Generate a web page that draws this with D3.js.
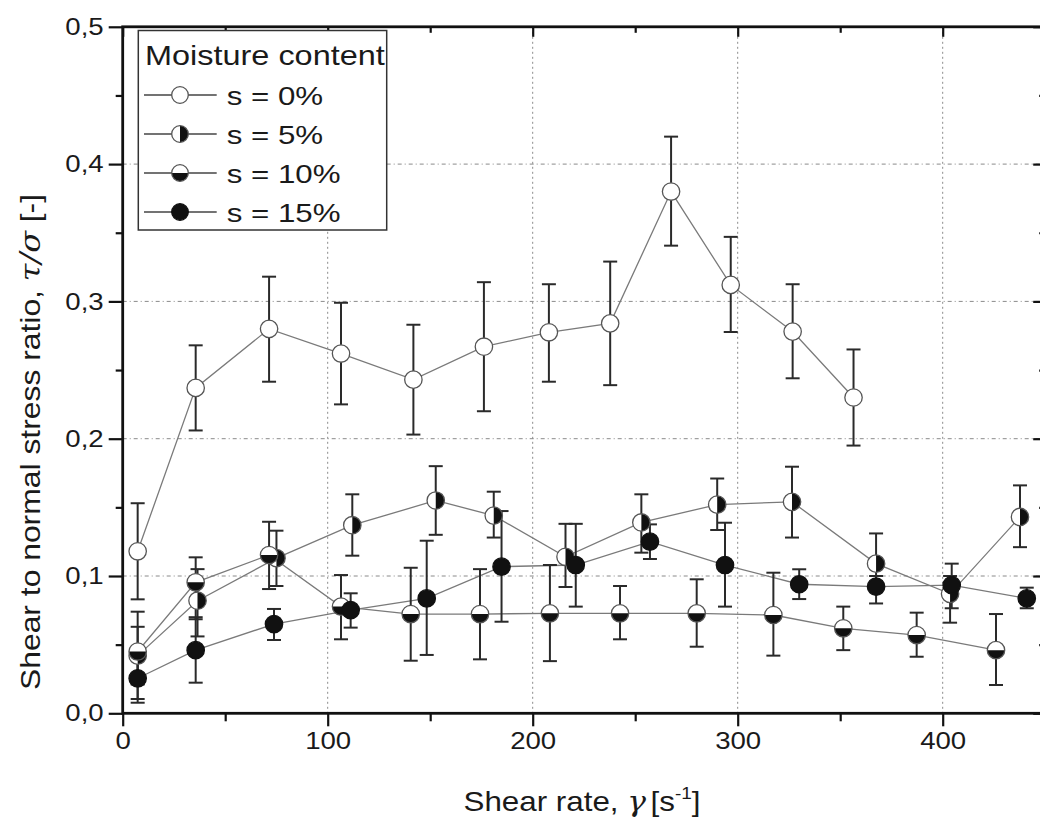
<!DOCTYPE html>
<html><head><meta charset="utf-8">
<script src="https://cdn.jsdelivr.net/npm/d3@7"></script>
<style>
body{margin:0;background:#fff}
svg{display:block}
text{font-family:"Liberation Sans",Arial,Helvetica,sans-serif;fill:#1a1a1a}
</style>
</head><body>
<svg id="c" width="1040" height="826"></svg>
<script>
// ---------------- data ----------------
const seriesNames = ["s = 0%", "s = 5%", "s = 10%", "s = 15%"];
const legendTitle = "Moisture content";

const x0  = [7.3, 35.6, 71.4, 106.5, 141.8, 176.2, 207.9, 237.8, 267.5, 296.6, 326.8, 356.5];
const y0  = [0.118, 0.237, 0.280, 0.262, 0.243, 0.267, 0.2775, 0.284, 0.380, 0.312, 0.278, 0.230];
const hi0 = [0.153, 0.268, 0.318, 0.299, 0.283, 0.314, 0.3125, 0.329, 0.420, 0.347, 0.3125, 0.265];
const lo0 = [0.083, 0.206, 0.2415, 0.225, 0.203, 0.220, 0.2415, 0.239, 0.3406, 0.2777, 0.244, 0.195];

const x5  = [7.3, 36.5, 75.0, 112.0, 152.7, 181.0, 216.0, 253.0, 290.0, 326.5, 367.5, 403.6, 437.7];
const y5  = [0.042, 0.082, 0.113, 0.137, 0.155, 0.144, 0.114, 0.139, 0.152, 0.154, 0.109, 0.087, 0.143];
const hi5 = [0.063, 0.105, 0.133, 0.1595, 0.180, 0.1614, 0.138, 0.1595, 0.171, 0.1796, 0.131, 0.100, 0.166];
const lo5 = [0.021, 0.056, 0.0927, 0.1148, 0.130, 0.128, 0.092, 0.117, 0.1335, 0.128, 0.092, 0.066, 0.121];

const x10  = [7.3, 35.6, 71.4, 106.5, 140.5, 174.3, 208.4, 242.6, 280.0, 317.4, 351.5, 387.3, 426.0];
const y10  = [0.045, 0.0954, 0.1153, 0.0777, 0.0723, 0.0723, 0.0728, 0.0728, 0.0728, 0.0716, 0.0619, 0.057, 0.046];
const hi10 = [0.074, 0.1136, 0.1395, 0.1007, 0.106, 0.105, 0.108, 0.0927, 0.0976, 0.1024, 0.0777, 0.0733, 0.0723];
const lo10 = [0.0104, 0.0685, 0.0905, 0.0539, 0.0383, 0.0393, 0.038, 0.0539, 0.0485, 0.042, 0.046, 0.0412, 0.0206];

const x15  = [7.3, 35.6, 73.8, 111.2, 148.3, 184.8, 221.0, 257.2, 293.8, 330.0, 367.5, 404.4, 441.0];
const y15  = [0.0255, 0.046, 0.065, 0.0752, 0.0837, 0.1068, 0.108, 0.125, 0.108, 0.094, 0.0922, 0.0934, 0.0837];
const hi15 = [0.040, 0.070, 0.076, 0.0874, 0.1257, 0.1473, 0.138, 0.1376, 0.1388, 0.1049, 0.100, 0.109, 0.0915];
const lo15 = [0.0077, 0.0223, 0.0534, 0.0624, 0.0425, 0.0667, 0.0777, 0.1124, 0.0777, 0.0832, 0.080, 0.0765, 0.0765];

const xMajor = [0, 100, 200, 300, 400];
const xMinor = [50, 150, 250, 350, 450];
const yMajor = [0, 0.1, 0.2, 0.3, 0.4, 0.5];
const yMinor = [0.05, 0.15, 0.25, 0.35, 0.45];
const yTickLabels = ["0,0", "0,1", "0,2", "0,3", "0,4", "0,5"];
const xTickLabels = ["0", "100", "200", "300", "400"];
const markerKinds = ["open", "right", "bottom", "full"];

// ---------------- setup ----------------
const svg = d3.select("#c");
const L = 122.7, R = 1045.2, T = 26.8, B = 713.3;
const x = d3.scaleLinear().domain([0, 450]).range([L, R]);
const y = d3.scaleLinear().domain([0, 0.5]).range([B, T]);
const SX = 1.15; // horizontal glyph stretch of the reference typeface

const series = [
  {name: seriesNames[0], kind: markerKinds[0], xs: x0, ys: y0, hi: hi0, lo: lo0},
  {name: seriesNames[1], kind: markerKinds[1], xs: x5, ys: y5, hi: hi5, lo: lo5},
  {name: seriesNames[2], kind: markerKinds[2], xs: x10, ys: y10, hi: hi10, lo: lo10},
  {name: seriesNames[3], kind: markerKinds[3], xs: x15, ys: y15, hi: hi15, lo: lo15}
].map(s => ({...s, pts: s.xs.map((v, i) => ({x: v, y: s.ys[i], hi: s.hi[i], lo: s.lo[i]}))}));

// ---------------- grid ----------------
const grid = svg.append("g");
grid.selectAll("line.gx").data([100, 200, 300, 400]).join("line")
  .attr("x1", d => x(d)).attr("x2", d => x(d)).attr("y1", T).attr("y2", B)
  .attr("stroke", "#8a8a8a").attr("stroke-width", 1).attr("stroke-dasharray", "2,3");
grid.selectAll("line.gy").data([0.1, 0.2, 0.3, 0.4]).join("line")
  .attr("x1", L).attr("x2", R).attr("y1", d => y(d)).attr("y2", d => y(d))
  .attr("stroke", "#8a8a8a").attr("stroke-width", 1).attr("stroke-dasharray", "4,3,1,3");

// ---------------- marker drawing ----------------
const MR = 8.7;
function drawMarker(g, kind, r) {
  g.append("circle").attr("r", r).attr("fill", kind === "full" ? "#111" : "#fff");
  if (kind === "right")
    g.append("path").attr("d", `M0,${-r} A${r},${r} 0 0 1 0,${r} Z`).attr("fill", "#111");
  if (kind === "bottom")
    g.append("path").attr("d", `M${-r},0 A${r},${r} 0 0 0 ${r},0 Z`).attr("fill", "#111");
  g.append("circle").attr("r", r).attr("fill", "none")
    .attr("stroke", kind === "full" ? "#111" : "#555").attr("stroke-width", 1.3);
}

const plot = svg.append("g");
const line = d3.line().x(d => x(d.x)).y(d => y(d.y));
series.forEach(s => {
  plot.append("path").datum(s.pts).attr("d", line)
    .attr("fill", "none").attr("stroke", "#7a7a7a").attr("stroke-width", 1.3);
});
series.forEach(s => {
  const eg = plot.append("g").attr("stroke", "#2a2a2a").attr("stroke-width", 2);
  s.pts.forEach(p => {
    eg.append("line").attr("x1", x(p.x)).attr("x2", x(p.x)).attr("y1", y(p.lo)).attr("y2", y(p.hi));
    [p.lo, p.hi].forEach(v => eg.append("line")
      .attr("x1", x(p.x) - 7).attr("x2", x(p.x) + 7).attr("y1", y(v)).attr("y2", y(v)));
  });
});
series.forEach(s => {
  s.pts.forEach(p => {
    const g = plot.append("g").attr("transform", `translate(${x(p.x)},${y(p.y)})`);
    drawMarker(g, s.kind, MR);
  });
});

// ---------------- axes ----------------
const ax = svg.append("g");
function styleAxis(g) {
  g.select(".domain").remove();
  g.selectAll(".tick line").attr("stroke", "#111").attr("stroke-width", 2.2);
}
ax.append("g").attr("transform", `translate(${L},0)`)
  .call(d3.axisLeft(y).tickValues(yMajor).tickSize(14).tickPadding(6)
    .tickFormat((d, i) => yTickLabels[i]))
  .call(styleAxis)
  .call(g => g.selectAll(".tick text").attr("font-size", 24).attr("fill", "#1a1a1a")
    .attr("font-family", "Liberation Sans, Arial, sans-serif")
    .attr("x", -19 / SX).attr("transform", `scale(${SX},1)`));
ax.append("g").attr("transform", `translate(${L},0)`)
  .call(d3.axisLeft(y).tickValues(yMinor).tickSize(7).tickFormat(""))
  .call(styleAxis);
ax.append("g").attr("transform", `translate(0,${B})`)
  .call(d3.axisBottom(x).tickValues(xMajor).tickSize(13).tickPadding(6)
    .tickFormat((d, i) => xTickLabels[i]))
  .call(styleAxis)
  .call(g => g.selectAll(".tick text").attr("font-size", 24).attr("fill", "#1a1a1a")
    .attr("font-family", "Liberation Sans, Arial, sans-serif")
    .attr("transform", `scale(${SX},1)`).attr("x", 0));
ax.append("g").attr("transform", `translate(0,${B})`)
  .call(d3.axisBottom(x).tickValues(xMinor).tickSize(8).tickFormat(""))
  .call(styleAxis);
ax.append("g").attr("transform", `translate(0,${T})`)
  .call(d3.axisTop(x).tickValues(xMajor).tickSize(-10).tickFormat(""))
  .call(styleAxis);
ax.append("g").attr("transform", `translate(0,${T})`)
  .call(d3.axisTop(x).tickValues(xMinor).tickSize(-6).tickFormat(""))
  .call(styleAxis);
ax.append("g").attr("transform", `translate(${R},0)`)
  .call(d3.axisRight(y).tickValues(yMajor).tickSize(-12).tickFormat(""))
  .call(styleAxis);
ax.append("g").attr("transform", `translate(${R},0)`)
  .call(d3.axisRight(y).tickValues(yMinor).tickSize(-6).tickFormat(""))
  .call(styleAxis);
ax.append("rect").attr("x", L).attr("y", T).attr("width", R - L).attr("height", B - T)
  .attr("fill", "none").attr("stroke", "#111").attr("stroke-width", 2.8);

// ---------------- axis titles ----------------
const xt = svg.append("text").attr("text-anchor", "middle").attr("font-size", 28)
  .attr("transform", `translate(582,811) scale(1.12,1)`);
xt.append("tspan").text("Shear rate, ");
xt.append("tspan").attr("font-style", "italic").attr("font-family", "DejaVu Serif, serif").text("γ");
xt.append("tspan").attr("dx", 4).text("[s");
xt.append("tspan").attr("font-size", 17).attr("dy", -12).text("-1");
xt.append("tspan").attr("dy", 12).text("]");

const yt = svg.append("text").attr("text-anchor", "middle").attr("font-size", 27)
  .attr("transform", `translate(40,442) rotate(-90) scale(1.18,1)`);
yt.append("tspan").text("Shear to normal stress ratio, ");
yt.append("tspan").attr("font-style", "italic").attr("font-family", "DejaVu Serif, serif").text("τ/σ");
yt.append("tspan").text(" [-]");

// ---------------- legend ----------------
const lg = svg.append("g");
lg.append("rect").attr("x", 138.3).attr("y", 30.5).attr("width", 248.4).attr("height", 199.5)
  .attr("fill", "#fff").attr("stroke", "#333").attr("stroke-width", 1.5);
lg.append("text").attr("font-size", 27.5)
  .attr("transform", `translate(145,65) scale(1.18,1)`).text(legendTitle);
series.forEach((s, i) => {
  const yc = 95 + i * 39;
  lg.append("line").attr("x1", 144).attr("x2", 216.7).attr("y1", yc).attr("y2", yc)
    .attr("stroke", "#444").attr("stroke-width", 1.3);
  const g = lg.append("g").attr("transform", `translate(180,${yc})`);
  drawMarker(g, s.kind, 8.3);
  lg.append("text").attr("font-size", 26.5)
    .attr("transform", `translate(226.7,${yc + 9.5}) scale(1.18,1)`).text(s.name);
});
</script>
</body></html>
